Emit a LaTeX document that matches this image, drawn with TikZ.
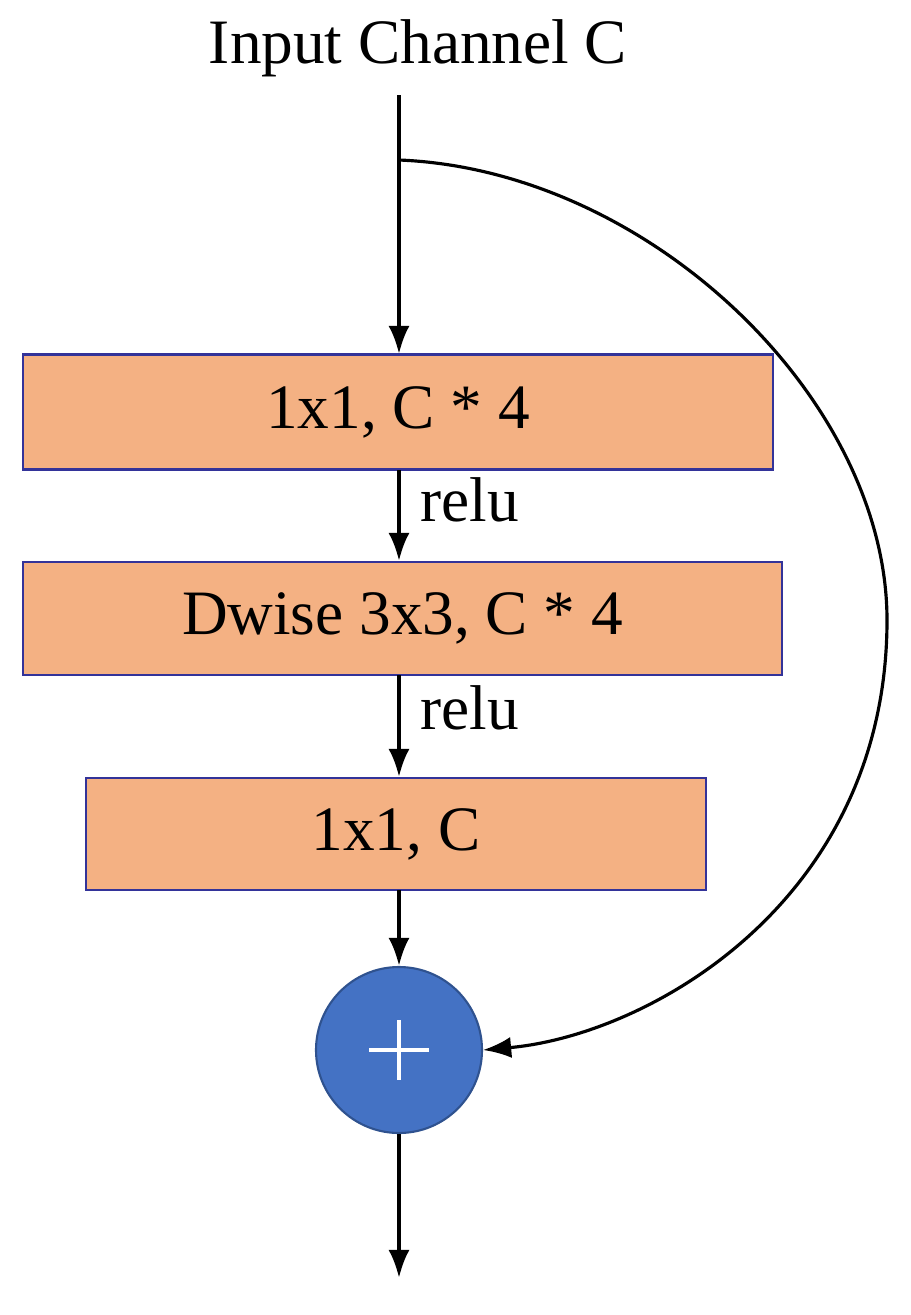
\documentclass[tikz,border=0pt]{standalone}
\usepackage{fontspec}
\setmainfont{Liberation Serif}
\usetikzlibrary{arrows.meta}
\begin{document}
\begin{tikzpicture}[x=0.02cm,y=-0.02cm,
 box/.style={draw=blue!50!black!80,line width=1.2pt,fill={rgb,255:red,244;green,177;blue,131},inner sep=0pt,font=\fontsize{36pt}{40pt}\selectfont},
 lbl/.style={font=\fontsize{36pt}{40pt}\selectfont,inner sep=0pt},
 arr/.style={line width=2.2pt,-{Latex[length=16pt,width=12pt]}}]
\useasboundingbox (0,0) rectangle (911,1315);
\node[lbl] (title) at (418,48) {Input Channel C};
\coordinate (top) at (399,95);
\coordinate (split) at (399,160);
\node[box,minimum width=750*0.02cm,minimum height=115*0.02cm] (b1) at (398,412) {1x1, C * 4};
\node[box,minimum width=759*0.02cm,minimum height=113*0.02cm] (b2) at (402.5,618.5) {Dwise 3x3, C * 4};
\node[box,minimum width=620*0.02cm,minimum height=112*0.02cm] (b3) at (396,834) {1x1, C};
\node[circle,draw={rgb,255:red,47;green,82;blue,143},line width=1.2pt,fill={rgb,255:red,68;green,114;blue,196},minimum size=166*0.02cm] (add) at (399,1050) {};
\draw[white,line width=2pt] (369,1050) -- (429,1050) (399,1020) -- (399,1080);
\node[lbl] (r1) at (470,500) {relu};
\node[lbl] (r2) at (470,708) {relu};
\coordinate (out) at (399,1278);
\draw[arr] (top) -- (399,354);
\draw[arr] (399,470) -- (399,561);
\draw[arr] (399,675) -- (399,777);
\draw[arr] (399,890) -- (add.north);
\draw[arr] (add.south) -- (out);
\draw[line width=1.8pt,-{Latex[length=16pt,width=12pt]}] (split) .. controls (650,170) and (887,400) .. (887,620) .. controls (887,900) and (650,1035) .. (add.east);
\end{tikzpicture}
\end{document}
